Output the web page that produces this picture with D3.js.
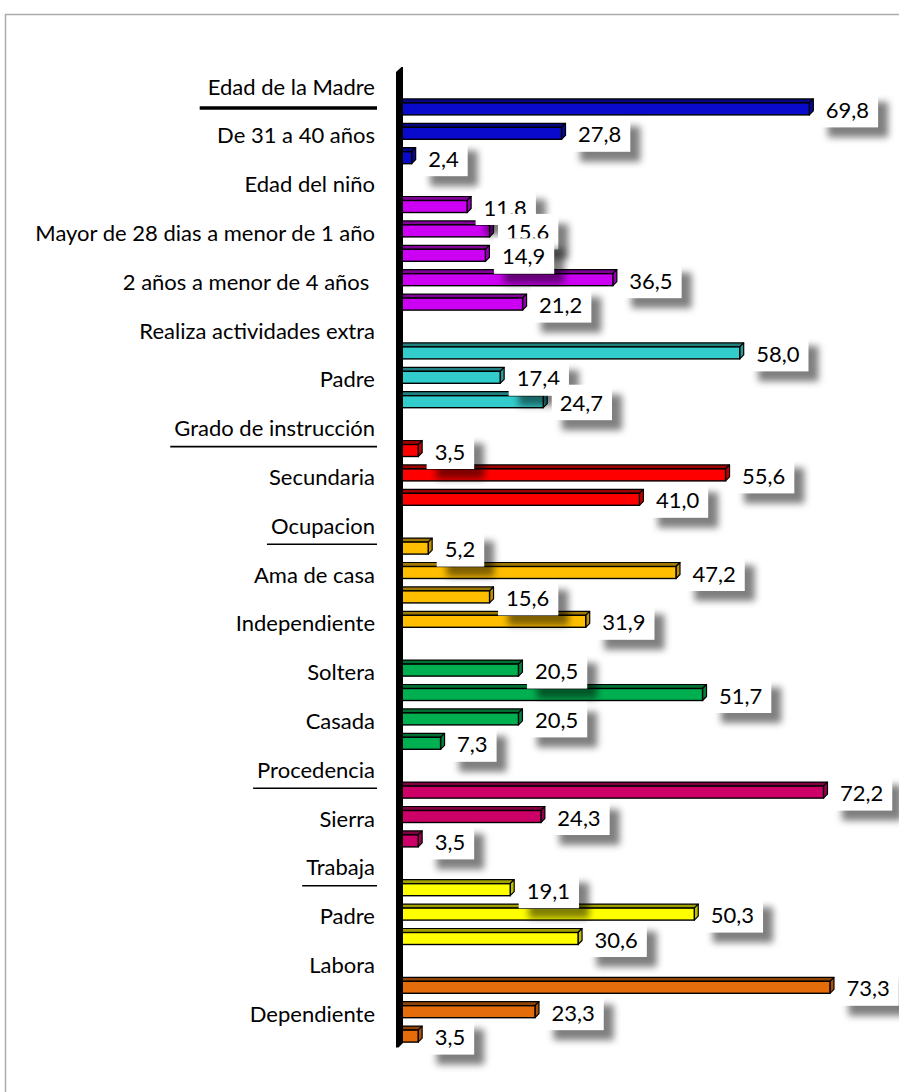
<!DOCTYPE html>
<html>
<head>
<meta charset="utf-8">
<script src="https://cdn.jsdelivr.net/npm/d3@7"></script>
<style>
  html, body { margin: 0; padding: 0; background: #fff; }
  svg { display: block; }
  text { font-family: Lato, "Open Sans", sans-serif; fill: #000; }
</style>
</head>
<body>
<svg id="chart" width="899" height="1092"></svg>
<script>
// Category rows, top to bottom. Only every other label is printed on the axis.
const categories = [
  "Edad de la Madre", null, "De 31 a 40 años", null,
  "Edad del niño", null, "Mayor de 28 dias a menor de 1 año", null, "2 años a menor de 4 años ", null,
  "Realiza actividades extra", null, "Padre", null,
  "Grado de instrucción", null, "Secundaria", null,
  "Ocupacion", null, "Ama de casa", null, "Independiente",
  null, "Soltera", null, "Casada", null,
  "Procedencia", null, "Sierra", null,
  "Trabaja", null, "Padre", null,
  "Labora", null, "Dependiente", null
];

// Percentages per row (null = group heading row without a bar).
const values = [
  null, 69.8, 27.8, 2.4,
  null, 11.8, 15.6, 14.9, 36.5, 21.2,
  null, 58.0, 17.4, 24.7,
  null, 3.5, 55.6, 41.0,
  null, 5.2, 47.2, 15.6, 31.9,
  null, 20.5, 51.7, 20.5, 7.3,
  null, 72.2, 24.3, 3.5,
  null, 19.1, 50.3, 30.6,
  null, 73.3, 23.3, 3.5
];

// Group index of each row (selects the bar colour).
const groups = [
  0, 0, 0, 0,
  1, 1, 1, 1, 1, 1,
  2, 2, 2, 2,
  3, 3, 3, 3,
  4, 4, 4, 4, 4,
  5, 5, 5, 5, 5,
  6, 6, 6, 6,
  7, 7, 7, 7,
  8, 8, 8, 8
];

// Rows whose heading is underlined.
const underlinedRows = [0, 14, 18, 28, 32];

const groupColors = ["#0a0acc", "#cc00f2", "#33cccc", "#ff0000", "#ffbf00", "#00b050", "#cc0066", "#ffff00", "#e46c0a"];

const svg = d3.select("#chart");

// Outer frame
svg.append("path")
  .attr("d", "M5.5,1092 L5.5,14.5 L899,14.5")
  .attr("fill", "none").attr("stroke", "#ababab").attr("stroke-width", 1.5);

const defs = svg.append("defs");
defs.append("filter").attr("id", "soft").attr("x", "-50%").attr("y", "-50%").attr("width", "200%").attr("height", "200%")
  .append("feGaussianBlur").attr("stdDeviation", 3.5);

const rows = d3.range(categories.length);
const y = d3.scaleBand().domain(rows).range([74.8, 1050.8]).padding(0);
const x = d3.scaleLinear().domain([0, 80]).range([397.5, 397.5 + 472]);
const rowC = i => y(i) + y.bandwidth() / 2;

const depth = 4;
const faceH = 12;
const fontSize = 22;
const fmt = v => d3.format(".1f")(v).replace(".", ",");

const barRows = rows.filter(i => values[i] !== null);

// 3D bars
const bars = svg.append("g").attr("class", "bars");
barRows.forEach(i => {
  const c = d3.color(groupColors[groups[i]]);
  const dark = c.darker(1.3).formatHex();
  const mid = c.darker(0.8).formatHex();
  const x0 = x(0), x1 = x(values[i]);
  const top = rowC(i) - 8.5, bot = top + faceH;
  const g = bars.append("g");
  g.append("path")
    .attr("d", `M${x0},${top} L${x0 + depth},${top - depth} L${x1 + depth},${top - depth} L${x1},${top} Z`)
    .attr("fill", dark).attr("stroke", "#000").attr("stroke-width", 1.2).attr("stroke-linejoin", "round");
  g.append("path")
    .attr("d", `M${x1},${top} L${x1 + depth},${top - depth} L${x1 + depth},${bot - depth} L${x1},${bot} Z`)
    .attr("fill", mid).attr("stroke", "#000").attr("stroke-width", 1.2).attr("stroke-linejoin", "round");
  g.append("rect")
    .attr("x", x0).attr("y", top).attr("width", x1 - x0).attr("height", faceH)
    .attr("fill", c.formatHex()).attr("stroke", "#000").attr("stroke-width", 1.4);
});

// Axis wall
svg.append("path")
  .attr("d", "M396,72 L401.5,67 L403,67 L403,1043 L398.5,1047.5 L396,1047.5 Z")
  .attr("fill", "#000");

// Category axis
const axis = d3.axisLeft(y)
  .tickValues(rows.filter(i => categories[i] !== null))
  .tickSize(0).tickPadding(0)
  .tickFormat(i => categories[i]);

const axisG = svg.append("g").attr("transform", "translate(375,0)").call(axis);
axisG.select(".domain").remove();
axisG.selectAll("text")
  .attr("dy", null).attr("y", 7.5)
  .style("font-size", fontSize + "px").style("font-family", "Lato, sans-serif")
  .attr("fill", "#000")
  .text(function (i) { return categories[i].replace(/ $/, "\u00a0"); });

// Heading underlines
axisG.selectAll(".tick").filter(i => underlinedRows.includes(i)).each(function (i) {
  const t = d3.select(this).select("text").node();
  const b = t.getBBox();
  const thick = i === 0;
  d3.select(this).append("line")
    .attr("x1", b.x - (thick ? 8 : 4)).attr("x2", b.x + b.width + 2)
    .attr("y1", thick ? 21 : 18).attr("y2", thick ? 21 : 18)
    .attr("stroke", "#000").attr("stroke-width", thick ? 3.5 : 1.6);
});

// Value labels: white boxes with a soft drop shadow
const labels = svg.append("g").attr("class", "labels");
barRows.forEach(i => {
  const c = rowC(i);
  const g = labels.append("g");
  const shadow = g.append("rect");
  const box = g.append("rect");
  const bx = x(values[i]) + 8.5;
  const t = g.append("text")
    .attr("x", bx + 8).attr("y", c + 6.5)
    .style("font-size", fontSize + "px")
    .text(fmt(values[i]));
  const w = t.node().getComputedTextLength() + 17;
  const by = c - 19.5, bh = 35.5;
  shadow.attr("x", bx + 10).attr("y", by + 10).attr("width", w).attr("height", bh)
    .attr("fill", "#000").attr("fill-opacity", 0.5).attr("filter", "url(#soft)");
  box.attr("x", bx).attr("y", by).attr("width", w).attr("height", bh).attr("fill", "#fff");
});
</script>
</body>
</html>
